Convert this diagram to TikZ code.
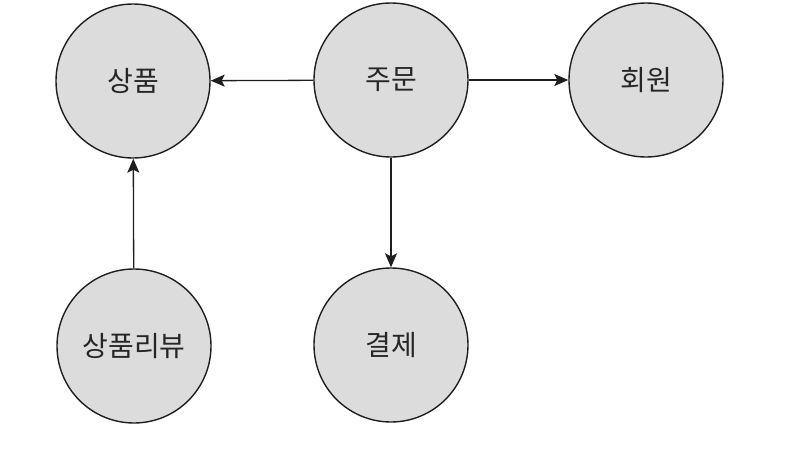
\documentclass[tikz,border=0pt]{standalone}
\usepackage{fontspec}
\newfontfamily\kr{Noto Sans CJK KR}
\usetikzlibrary{arrows.meta}
\definecolor{cfill}{RGB}{220,220,220}
\definecolor{cline}{RGB}{30,30,30}
\tikzset{
  ent/.style={circle, draw=cline, line width=1.4pt, fill=cfill, minimum size=154pt, inner sep=0pt, font=\kr\fontsize{28}{30}\selectfont, text=black!85},
  rel/.style={draw=cline, line width=1.3pt, -{Stealth[length=14pt,width=12pt,inset=3pt]}}
}
\begin{document}
\begin{tikzpicture}[x=1pt,y=-1pt]
\useasboundingbox (0,0) rectangle (804,450);
\node[ent] (prod) at (133,81) {상품};
\node[ent] (order) at (391,80) {주문};
\node[ent] (member) at (646,80) {회원};
\node[ent] (review) at (134,346) {상품리뷰};
\node[ent] (pay) at (391,345) {결제};
\draw[rel] (order) -- (prod);
\draw[rel] (order) -- (member);
\draw[rel] (order) -- (pay);
\draw[rel] (review) -- (prod);
\end{tikzpicture}
\end{document}
